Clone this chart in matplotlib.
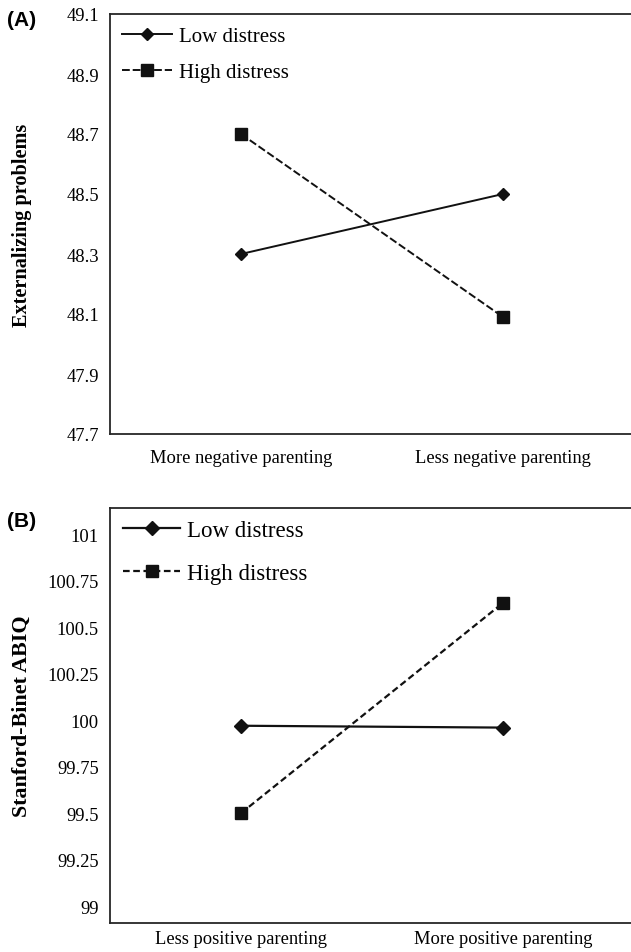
import matplotlib
matplotlib.use("Agg")
import matplotlib.pyplot as plt

# data
cats_a = ["More negative parenting", "Less negative parenting"]
low_a = [48.30, 48.50]
high_a = [48.70, 48.09]
yticks_a = [47.7, 47.9, 48.1, 48.3, 48.5, 48.7, 48.9, 49.1]

cats_b = ["Less positive parenting", "More positive parenting"]
low_b = [99.97, 99.96]
high_b = [99.50, 100.63]
yticks_b = [99, 99.25, 99.5, 99.75, 100, 100.25, 100.5, 100.75, 101]
ytick_labels_b = ["99", "99.25", "99.5", "99.75", "100", "100.25", "100.5", "100.75", "101"]

plt.rcParams['font.family'] = ['Liberation Serif', 'DejaVu Serif']

W, H = 631, 953
fig = plt.figure(figsize=(W / 100, H / 100), dpi=100)

def px_axes(left, top, right, bottom):
    return fig.add_axes([left / W, 1 - bottom / H, (right - left) / W, (bottom - top) / H])

def style(ax, cats, yticks, ylim, ylabel, ylsize, xpad, labels=None):
    x = range(len(cats))
    ax.set_xlim(-0.5, len(cats) - 0.5)
    ax.set_xticks(list(x))
    ax.set_xticklabels(cats)
    ax.set_ylim(*ylim)
    ax.set_yticks(yticks)
    if labels is not None:
        ax.set_yticklabels(labels)
    ax.tick_params(axis='both', length=0, labelsize=13.3)
    ax.tick_params(axis='y', pad=8)
    ax.tick_params(axis='x', pad=xpad)
    ax.spines['right'].set_visible(False)
    for s in ['left', 'bottom', 'top']:
        ax.spines[s].set_linewidth(1.3)
        ax.spines[s].set_color('#262626')
    ax.set_ylabel(ylabel, fontsize=ylsize, fontweight='bold')
    # right edge of the rotated label sits about 32 px from the figure's left
    ax.yaxis.set_label_coords(-78 / 524, 0.5)

# panel A
ax1 = px_axes(110, 15, 634, 435)
ax1.plot(range(2), low_a, color='#111111', lw=1.4, marker='D', ms=6.5, label='Low distress')
ax1.plot(range(2), high_a, color='#111111', lw=1.4, ls=(0, (4, 1.5)), marker='s', ms=8,
         label='High distress')
style(ax1, cats_a, yticks_a, (47.7, 49.1), 'Externalizing problems', 14.6, 11)
ax1.legend(loc='upper left', bbox_to_anchor=(0.023, 0.97), frameon=False, fontsize=15,
           handlelength=2.4, handletextpad=0.35, labelspacing=0.78, borderpad=0,
           borderaxespad=0, numpoints=1)
fig.text(7 / W, 1 - 21 / H, '(A)', family='Liberation Sans', fontweight='bold',
         fontsize=15, va='center', ha='left')

# panel B
ax2 = px_axes(110, 509, 634, 924)
ax2.plot(range(2), low_b, color='#111111', lw=1.6, marker='D', ms=7, label='Low distress')
ax2.plot(range(2), high_b, color='#111111', lw=1.6, ls=(0, (3, 1.6)), marker='s', ms=9,
         label='High distress')
style(ax2, cats_b, yticks_b, (98.91, 101.14), 'Stanford-Binet ABIQ', 15.8, 5,
      ytick_labels_b)
ax2.legend(loc='upper left', bbox_to_anchor=(0.025, 0.97), frameon=False, fontsize=16.5,
           handlelength=2.5, handletextpad=0.3, labelspacing=0.92, borderpad=0,
           borderaxespad=0, numpoints=1)
fig.text(7 / W, 1 - 522 / H, '(B)', family='Liberation Sans', fontweight='bold',
         fontsize=15, va='center', ha='left')

fig.savefig('out.png', dpi=100)
